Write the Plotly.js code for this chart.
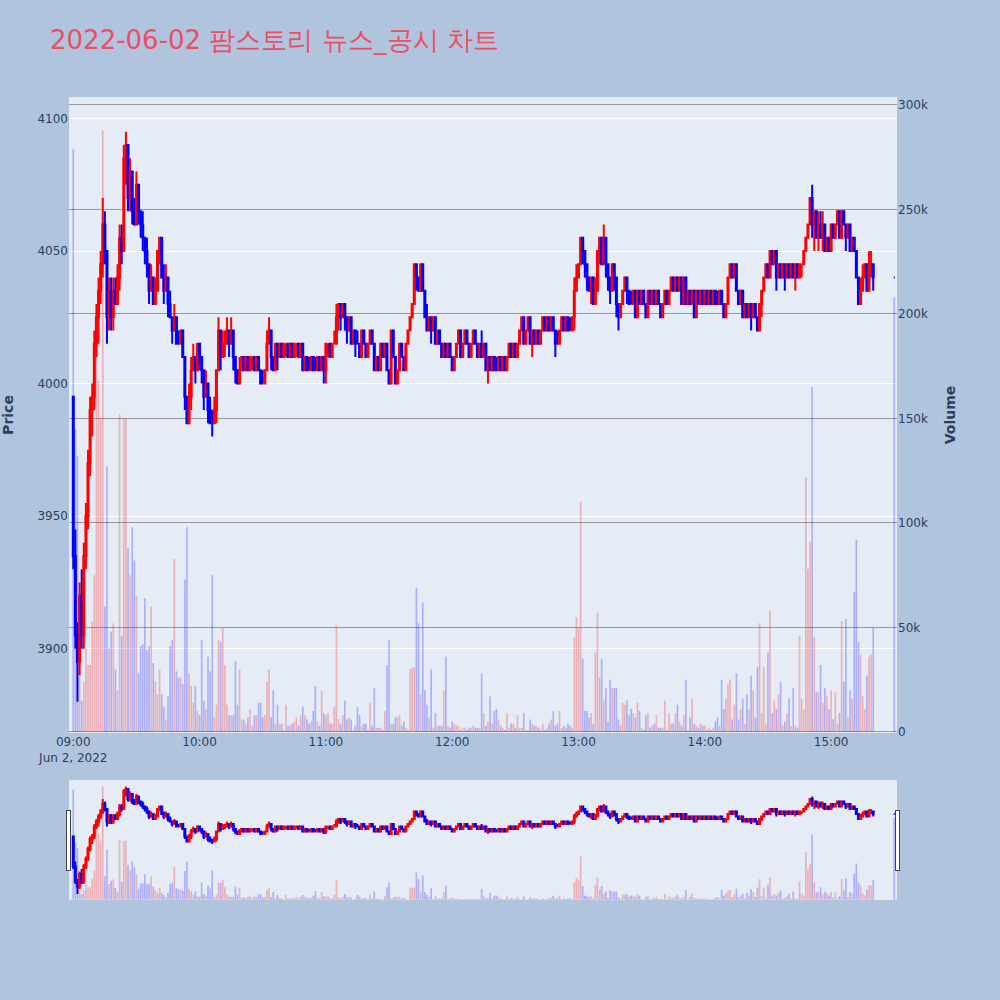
<!DOCTYPE html>
<html><head><meta charset="utf-8">
<script src="https://cdn.plot.ly/plotly-3.0.1.min.js"></script>
<style>body{margin:0;background:#B0C4DE}</style>
</head><body><div id="chart" style="width:1000px;height:1000px"></div>
<script>
const openP = [
3995,3935,3905,3895,3920,3905,3935,3950,3970,3990,
3995,4015,4025,4035,4045,4060,4050,4025,4035,4025,
4035,4030,4040,4055,4050,4085,4090,4070,4080,4065,
4060,4075,4065,4060,4055,4050,4045,4035,4040,4030,
4035,4050,4055,4040,4035,4040,4030,4025,4020,4025,
4015,4015,4020,4010,3995,3985,3995,4005,4010,4005,
4015,4010,4005,3995,4000,3990,3985,3985,3990,4005,
4020,4010,4015,4015,4020,4015,4020,4010,4005,4000,
4005,4010,4005,4010,4005,4010,4010,4005,4010,4005,
4000,4000,4005,4015,4020,4010,4005,4015,4010,4015,
4010,4015,4015,4010,4015,4010,4015,4015,4010,4015,
4005,4010,4005,4005,4010,4005,4005,4010,4005,4010,
4005,4015,4015,4010,4015,4015,4025,4030,4025,4030,
4025,4020,4025,4015,4020,4015,4015,4010,4020,4015,
4010,4015,4020,4015,4005,4010,4005,4015,4010,4015,
4005,4000,4020,4010,4000,4005,4015,4010,4005,4015,
4020,4025,4030,4045,4040,4035,4045,4035,4025,4020,
4025,4020,4025,4015,4020,4015,4010,4015,4010,4015,
4010,4005,4010,4015,4020,4010,4015,4020,4015,4010,
4015,4020,4015,4010,4015,4010,4015,4005,4010,4005,
4010,4005,4005,4010,4005,4010,4005,4010,4015,4010,
4015,4010,4015,4020,4025,4015,4020,4025,4015,4020,
4015,4020,4015,4020,4025,4020,4025,4020,4025,4020,
4015,4015,4020,4025,4020,4025,4020,4020,4025,4035,
4040,4045,4055,4050,4045,4040,4035,4040,4030,4035,
4050,4055,4045,4055,4045,4040,4035,4045,4040,4030,
4025,4030,4035,4040,4035,4030,4030,4035,4025,4035,
4030,4035,4030,4025,4035,4030,4035,4030,4035,4030,
4025,4030,4035,4030,4035,4040,4035,4040,4035,4040,
4030,4040,4030,4035,4030,4035,4025,4035,4030,4035,
4030,4035,4030,4035,4030,4035,4030,4030,4035,4030,
4025,4030,4040,4045,4040,4045,4035,4030,4035,4025,
4030,4025,4030,4025,4030,4025,4020,4030,4035,4040,
4045,4040,4050,4045,4050,4040,4045,4040,4045,4040,
4045,4040,4045,4040,4045,4040,4045,4045,4050,4055,
4060,4070,4060,4065,4055,4060,4055,4060,4050,4055,
4050,4060,4055,4060,4065,4055,4065,4060,4055,4060,
4050,4055,4050,4040,4030,4035,4040,4045,4035,4045,
4045,4040];
const highP = [
3995,3945,3910,3925,3930,3940,3955,3975,3995,4000,
4020,4030,4040,4050,4070,4065,4050,4040,4040,4040,
4040,4045,4060,4060,4090,4095,4090,4085,4080,4070,
4080,4075,4065,4065,4055,4055,4045,4045,4040,4040,
4050,4055,4055,4045,4045,4040,4035,4025,4030,4025,
4020,4020,4020,4010,3995,4000,4010,4015,4010,4015,
4015,4010,4005,4005,4000,3995,3990,3995,4005,4025,
4020,4020,4020,4025,4020,4025,4020,4010,4005,4010,
4010,4010,4010,4010,4010,4010,4010,4010,4010,4005,
4005,4005,4020,4025,4020,4010,4015,4015,4015,4015,
4015,4015,4015,4015,4015,4015,4015,4015,4015,4015,
4010,4010,4010,4010,4010,4010,4010,4010,4010,4010,
4015,4015,4015,4015,4020,4030,4030,4030,4030,4030,
4025,4025,4025,4020,4020,4020,4015,4020,4020,4015,
4015,4020,4020,4015,4010,4010,4015,4015,4015,4015,
4005,4020,4020,4010,4005,4015,4015,4010,4015,4020,
4025,4030,4045,4045,4040,4045,4045,4035,4030,4025,
4025,4025,4025,4020,4020,4015,4015,4015,4015,4015,
4010,4010,4015,4020,4020,4015,4020,4020,4015,4015,
4020,4020,4015,4015,4020,4015,4015,4010,4010,4010,
4010,4010,4010,4010,4010,4010,4010,4015,4015,4015,
4015,4015,4020,4025,4025,4020,4025,4025,4020,4020,
4020,4020,4020,4025,4025,4025,4025,4025,4025,4020,
4020,4020,4025,4025,4025,4025,4025,4025,4040,4045,
4045,4055,4055,4050,4045,4040,4040,4040,4040,4050,
4055,4055,4060,4055,4045,4040,4045,4045,4040,4030,
4030,4035,4040,4040,4035,4035,4035,4035,4035,4035,
4035,4035,4030,4035,4035,4035,4035,4035,4035,4030,
4030,4035,4035,4035,4040,4040,4040,4040,4040,4040,
4040,4040,4035,4035,4035,4035,4035,4035,4035,4035,
4035,4035,4035,4035,4035,4035,4035,4035,4035,4030,
4030,4040,4045,4045,4045,4045,4035,4035,4035,4030,
4030,4030,4030,4030,4030,4025,4030,4035,4040,4045,
4045,4050,4050,4050,4050,4045,4045,4045,4045,4045,
4045,4045,4045,4045,4045,4045,4045,4050,4055,4060,
4070,4075,4065,4065,4065,4065,4065,4060,4055,4055,
4060,4060,4060,4065,4065,4065,4065,4060,4060,4060,
4055,4055,4050,4040,4040,4045,4045,4045,4050,4050,
4045,4040];
const lowP = [
3930,3900,3880,3890,3900,3900,3930,3945,3965,3980,
3990,4010,4015,4030,4040,4045,4015,4020,4020,4020,
4030,4030,4035,4045,4050,4075,4065,4065,4060,4060,
4060,4060,4055,4050,4045,4040,4030,4035,4030,4030,
4035,4045,4040,4030,4035,4025,4025,4015,4020,4015,
4015,4015,4010,3990,3985,3985,3990,4005,4000,4005,
4005,4000,3990,3995,3985,3985,3980,3985,3985,4005,
4005,4010,4010,4015,4010,4015,4005,4000,4000,4000,
4005,4005,4005,4005,4005,4005,4005,4005,4005,4000,
4000,4000,4005,4015,4005,4005,4005,4005,4010,4010,
4010,4010,4010,4010,4010,4010,4010,4010,4010,4005,
4005,4005,4005,4005,4005,4005,4005,4005,4005,4000,
4000,4010,4010,4010,4015,4015,4020,4020,4025,4020,
4015,4020,4015,4015,4010,4015,4010,4010,4015,4010,
4010,4015,4015,4005,4005,4005,4005,4010,4010,4005,
4000,4000,4010,4000,4000,4005,4010,4005,4005,4015,
4020,4025,4030,4035,4035,4035,4035,4025,4020,4020,
4015,4020,4015,4015,4015,4010,4010,4010,4010,4010,
4005,4005,4010,4015,4010,4010,4015,4015,4010,4010,
4015,4015,4010,4010,4010,4010,4005,4000,4005,4005,
4005,4005,4005,4005,4005,4005,4005,4010,4010,4010,
4010,4010,4015,4020,4015,4015,4020,4015,4010,4015,
4015,4015,4015,4020,4020,4020,4020,4020,4020,4010,
4015,4015,4020,4020,4020,4020,4020,4020,4020,4035,
4040,4045,4045,4040,4035,4035,4030,4030,4030,4035,
4045,4045,4045,4040,4035,4030,4035,4035,4025,4020,
4025,4030,4035,4030,4030,4030,4030,4025,4025,4030,
4030,4030,4025,4025,4030,4030,4030,4030,4030,4025,
4025,4030,4030,4030,4035,4035,4035,4035,4035,4030,
4030,4030,4030,4030,4030,4025,4025,4030,4030,4030,
4030,4030,4030,4030,4030,4030,4030,4030,4030,4025,
4025,4030,4040,4040,4040,4035,4030,4030,4025,4025,
4025,4025,4020,4025,4025,4020,4020,4025,4035,4040,
4040,4040,4045,4045,4035,4040,4040,4040,4035,4040,
4040,4040,4040,4035,4040,4040,4040,4045,4050,4055,
4060,4055,4050,4055,4050,4055,4050,4050,4050,4050,
4050,4055,4055,4060,4055,4055,4060,4050,4055,4050,
4050,4050,4040,4030,4030,4035,4040,4035,4035,4040,
4035,4040];
const closeP = [
3935,3905,3895,3920,3905,3935,3950,3970,3990,3995,
4015,4025,4035,4045,4060,4050,4025,4035,4025,4035,
4030,4040,4055,4050,4085,4090,4070,4080,4065,4060,
4075,4065,4060,4055,4050,4045,4035,4040,4030,4035,
4050,4055,4040,4035,4040,4030,4025,4020,4025,4015,
4015,4020,4010,3995,3985,3995,4005,4010,4005,4015,
4010,4005,3995,4000,3990,3985,3985,3990,4005,4020,
4010,4015,4015,4020,4015,4020,4010,4005,4000,4005,
4010,4005,4010,4005,4010,4010,4005,4010,4005,4000,
4000,4005,4015,4020,4010,4005,4015,4010,4015,4010,
4015,4015,4010,4015,4010,4015,4015,4010,4015,4005,
4010,4005,4005,4010,4005,4005,4010,4005,4010,4005,
4015,4015,4010,4015,4015,4025,4030,4025,4030,4025,
4020,4025,4015,4020,4015,4015,4010,4020,4015,4010,
4015,4020,4015,4005,4010,4005,4015,4010,4015,4005,
4000,4020,4010,4000,4005,4015,4010,4005,4015,4020,
4025,4030,4045,4040,4035,4045,4035,4025,4020,4025,
4020,4025,4015,4020,4015,4010,4015,4010,4015,4010,
4005,4010,4015,4020,4010,4015,4020,4015,4010,4015,
4020,4015,4010,4015,4010,4015,4005,4010,4005,4010,
4005,4005,4010,4005,4010,4005,4010,4015,4010,4015,
4010,4015,4020,4025,4015,4020,4025,4015,4020,4015,
4020,4015,4020,4025,4020,4025,4020,4025,4020,4015,
4015,4020,4025,4020,4025,4020,4020,4025,4035,4040,
4045,4055,4050,4045,4040,4035,4040,4030,4035,4050,
4055,4045,4055,4045,4040,4035,4045,4040,4030,4025,
4030,4035,4040,4035,4030,4030,4035,4025,4035,4030,
4035,4030,4025,4035,4030,4035,4030,4035,4030,4025,
4030,4035,4030,4035,4040,4035,4040,4035,4040,4030,
4040,4030,4035,4030,4035,4025,4035,4030,4035,4030,
4035,4030,4035,4030,4035,4030,4030,4035,4030,4025,
4030,4040,4045,4040,4045,4035,4030,4035,4025,4030,
4025,4030,4025,4030,4025,4020,4030,4035,4040,4045,
4040,4050,4045,4050,4040,4045,4040,4045,4040,4045,
4040,4045,4040,4045,4040,4045,4045,4050,4055,4060,
4070,4060,4065,4055,4060,4055,4060,4050,4055,4050,
4060,4055,4060,4065,4055,4065,4060,4055,4060,4050,
4055,4050,4040,4030,4035,4040,4045,4035,4045,4045,
4040,4040];
// volume in thousands of shares
const volumeK = [
279,145,132,35,15,24,40,32,32,53,
75,185,168,150,288,60,127,40,48,52,
30,20,152,46,150,150,88,75,98,82,
65,28,41,42,64,39,41,60,33,24,
18,30,18,12,6,17,41,44,83,29,
26,26,23,73,98,28,22,14,22,10,
8,44,15,11,36,29,75,7,13,44,
43,50,32,13,8,8,8,34,13,30,
6,6,4,7,11,3,8,8,14,14,
7,8,24,30,7,20,4,13,4,4,
1,13,3,3,4,5,7,3,8,12,
8,6,4,5,10,22,5,3,20,9,
8,9,4,4,12,51,6,4,8,15,
6,7,6,1,3,12,8,3,4,4,
1,14,3,21,2,2,2,1,10,32,
44,4,4,7,7,8,3,5,2,1,
30,31,31,69,52,18,62,20,13,7,
30,2,9,3,3,3,20,36,3,2,
5,4,3,3,1,2,2,1,2,2,
3,2,2,2,28,9,3,5,17,4,
10,11,6,3,2,1,9,2,4,4,
2,8,2,2,9,1,1,6,4,3,
3,2,1,4,1,2,4,6,10,3,
4,10,2,3,2,4,3,2,45,55,
50,110,35,10,10,7,9,4,38,57,
26,35,15,21,5,25,21,21,21,6,
3,14,13,15,8,11,9,7,14,10,
2,1,8,9,2,3,4,8,2,2,
2,15,1,9,4,4,9,13,5,3,
8,25,1,7,16,4,3,2,4,3,
3,1,2,1,2,5,7,3,25,11,
16,23,25,6,13,28,6,11,16,4,
18,11,27,20,7,31,52,9,31,4,
38,58,9,15,11,18,24,3,5,9,
16,3,21,3,2,46,16,11,122,78,
91,165,45,19,19,32,14,21,17,11,
20,6,19,4,9,53,24,54,7,20,
16,67,92,43,37,17,11,27,36,37,
50,208];

// minute offsets from 09:00 (continuous session 09:00-15:20, closing auction at 15:30)
const minuteOffsets = [];
for (let m = 0; m <= 380; m++) minuteOffsets.push(m);
minuteOffsets.push(390);
const times = minuteOffsets.map(m => {
  const h = 9 + Math.floor(m / 60), mm = m % 60;
  return '2022-06-02 ' + String(h).padStart(2, '0') + ':' + String(mm).padStart(2, '0') + ':00';
});
const volume = volumeK.map(v => v * 1000);

// colour each volume bar like its candle (same rule plotly uses for candles)
const volColors = [];
let inc = true, prevClose = null;
for (let i = 0; i < closeP.length; i++) {
  const o = openP[i], c = closeP[i];
  if (c === o) { if (prevClose !== null && c !== prevClose) inc = c > prevClose; }
  else inc = c > o;
  prevClose = c;
  volColors.push(inc ? 'rgba(255,0,0,0.25)' : 'rgba(0,0,255,0.25)');
}

const volTrace = {
  type: 'bar', x: times, y: volume, yaxis: 'y2', name: 'Volume',
  marker: { color: volColors, line: { width: 0 } }, hoverinfo: 'x+y'
};
const candleTrace = {
  type: 'candlestick', x: times, open: openP, high: highP, low: lowP, close: closeP,
  name: 'Price', yaxis: 'y',
  increasing: { line: { color: 'red', width: 2 }, fillcolor: 'red' },
  decreasing: { line: { color: 'blue', width: 2 }, fillcolor: 'blue' }
};

const xr = ['2022-06-02 08:57:58', '2022-06-02 15:31:18'];
const layout = {
  width: 1000, height: 1000,
  paper_bgcolor: '#B0C4DE', plot_bgcolor: '#E5ECF6',
  font: { family: 'DejaVu Sans, Verdana, sans-serif', color: '#2a3f5f', size: 12 },
  title: { text: '2022-06-02 팜스토리 뉴스_공시 차트', font: { size: 26, color: '#EC4E63' },
           x: 0.05, xanchor: 'left', xref: 'container', y: 0.96, yanchor: 'middle', yref: 'container' },
  margin: { l: 69, r: 103, t: 97, b: 100 },
  showlegend: false,
  xaxis: {
    type: 'date', range: xr, showgrid: false, zeroline: false,
    rangeslider: { visible: true, thickness: 0.15, bgcolor: '#E5ECF6', range: xr }
  },
  yaxis: {
    title: { text: '<b>Price</b>', standoff: 20 }, range: [3868.2, 4108.1],
    showgrid: true, gridcolor: 'white', gridwidth: 1, zeroline: false
  },
  yaxis2: {
    title: { text: '<b>Volume</b>', standoff: 18 }, overlaying: 'y', side: 'right',
    range: [-500, 303800], showgrid: true, gridcolor: '#999999', gridwidth: 1, zeroline: false
  }
};
Plotly.newPlot('chart', [volTrace, candleTrace], layout, { displayModeBar: false });
</script>
</body></html>
